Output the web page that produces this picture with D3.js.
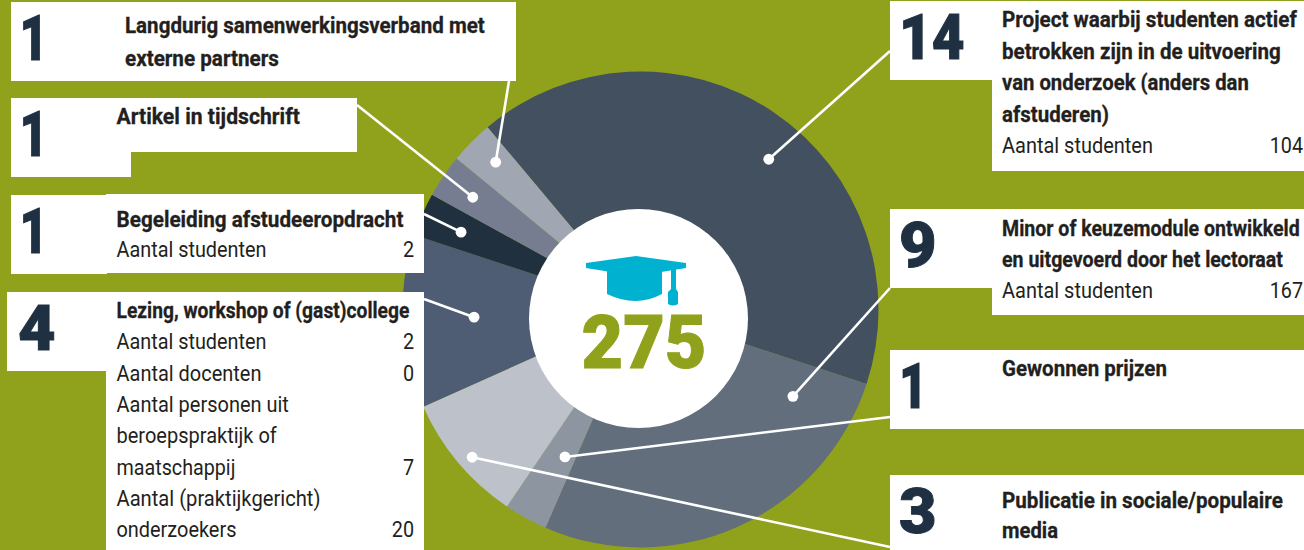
<!DOCTYPE html>
<html lang="en">
<head>
<meta charset="UTF-8">
<title>275</title>
<script src="https://d3js.org/d3.v7.min.js"></script>
<style>
  html, body { margin: 0; padding: 0; background: #90a11b; overflow: hidden; }
  text { font-family: "Roboto", sans-serif; }
</style>
</head>
<body>
<div id="chart"></div>
<script>
// data, clockwise from the big slice
const counts = [14, 9, 1, 3, 4, 1, 1, 1];
const total = 275;
const titleLines = [
  ["Project waarbij studenten actief", "betrokken zijn in de uitvoering", "van onderzoek (anders dan", "afstuderen)"],
  ["Minor of keuzemodule ontwikkeld", "en uitgevoerd door het lectoraat"],
  ["Gewonnen prijzen"],
  ["Publicatie in sociale/populaire", "media"],
  ["Lezing, workshop of (gast)college"],
  ["Begeleiding afstudeeropdracht"],
  ["Artikel in tijdschrift"],
  ["Langdurig samenwerkingsverband met", "externe partners"]
];
// [label line, value] rows under each title
const detailRows = [
  [["Aantal studenten", "104"]],
  [["Aantal studenten", "167"]],
  [],
  [],
  [["Aantal studenten", "2"], ["Aantal docenten", "0"], ["Aantal personen uit", ""], ["beroepspraktijk of", ""], ["maatschappij", "7"], ["Aantal (praktijkgericht)", ""], ["onderzoekers", "20"]],
  [["Aantal studenten", "2"]],
  [],
  []
];

// styles and layout, same order as the data
const sliceColors = ["#42505f", "#626e7c", "#8d95a1", "#bcc1ca", "#4e5d74", "#20303f", "#777d90", "#a1a7b2"];
const green = "#90a11b", ink = "#231f20", navy = "#1f3043", capBlue = "#00b1d0";

const W = 1304, H = 550;
const cx = 640.5, cy = 309.5, outerR = 238, startDeg = -40;
const holeX = 638.5, holeY = 318.5, holeR = 109.5;

// text is squeezed to these widths, the reference face is narrower than Roboto
const titleWidths = [[295, 279, 247, 107], [298, 281], [165], [281, 56], [293], [287], [183.5], [360, 154]];
const detailWidths = [[151], [151], [], [], [150, 145, 172.5, 160.5, 119, 204, 120], [150], [], []];

// panels: outline rects, number spot, text spot, value right edge, leader start, dot spot in the slice
const panels = [
  {rects: [[890, 1, 414, 79], [992, 1, 312, 170]], nx: 899, ns: 0.9, tx: 1002, ty: 27, step: 31.5, vx: 1303, lead: [890, 51], dotR: 0.83, dotF: 0.543},
  {rects: [[890, 209, 414, 79], [992, 209, 312, 106]], nx: 899, ns: 1.03, tx: 1002, ty: 236, step: 31, vx: 1303, lead: [890, 288], dotR: 0.737, dotF: 0.12},
  {rects: [[890, 350, 414, 79]], nx: 899, ns: 0.78, tx: 1002, ty: 376, step: 31, vx: 1303, lead: [890, 417], dotR: 0.696, dotF: 0.34},
  {rects: [[890, 475, 414, 75]], nx: 899, ns: 1.03, tx: 1002, ty: 508, step: 30, vx: 1303, lead: [890, 547], dotR: 0.941, dotF: 0.46},
  {rects: [[7, 292, 100, 79], [106, 292, 318, 258]], nx: 18, ns: 1.03, tx: 116.5, ty: 318, step: 31.3, vx: 414, lead: [424, 299], dotR: 0.70, dotF: 0.507},
  {rects: [[11, 195, 96, 79], [106, 194, 318, 79]], nx: 19.5, ns: 0.78, tx: 116.5, ty: 227, step: 30, vx: 414, lead: [424, 214], dotR: 0.821, dotF: 0.48},
  {rects: [[11, 98, 346, 54], [11, 98, 120, 79]], nx: 19.5, ns: 0.78, tx: 116.5, ty: 124, step: 31, vx: 357, lead: [357, 105], dotR: 0.848, dotF: 0.47},
  {rects: [[11, 2, 505, 79]], nx: 19.5, ns: 0.78, tx: 125, ty: 33, step: 33, vx: 516, lead: [509, 81], dotR: 0.868, dotF: 0.575}
];

const svg = d3.select("#chart").append("svg").attr("width", W).attr("height", H);
svg.append("rect").attr("width", W).attr("height", H).attr("fill", green);

const pie = d3.pie().sort(null).value(d => d)
  .startAngle(startDeg * Math.PI / 180)
  .endAngle((startDeg + 360) * Math.PI / 180);
const arcs = pie(counts);
const arc = d3.arc().innerRadius(0).outerRadius(outerR);

svg.append("g").attr("transform", `translate(${cx},${cy})`)
  .selectAll("path").data(arcs).join("path")
  .attr("d", arc)
  .attr("fill", (d, i) => sliceColors[i]);

// white panels go on top of the pie
panels.forEach(p => {
  svg.append("g").selectAll("rect").data(p.rects).join("rect")
    .attr("x", d => d[0]).attr("y", d => d[1]).attr("width", d => d[2]).attr("height", d => d[3])
    .attr("fill", "#fff");
});

// leader lines and dots, dot spot comes from the slice angle
function dotSpot(d, i) {
  const a = d.startAngle + (d.endAngle - d.startAngle) * panels[i].dotF;
  const r = outerR * panels[i].dotR;
  return [cx + Math.sin(a) * r, cy - Math.cos(a) * r];
}
arcs.forEach((d, i) => {
  const s = dotSpot(d, i), l = panels[i].lead;
  svg.append("line").attr("x1", l[0]).attr("y1", l[1]).attr("x2", s[0]).attr("y2", s[1])
    .attr("stroke", "#fff").attr("stroke-width", 2.6);
  svg.append("circle").attr("cx", s[0]).attr("cy", s[1]).attr("r", 5.4).attr("fill", "#fff");
});

// centre
svg.append("circle").attr("cx", holeX).attr("cy", holeY).attr("r", holeR).attr("fill", "#fff");

const cap = svg.append("g").attr("transform", "translate(636,256)").attr("fill", capBlue);
cap.append("path").attr("d", "M-50,7 L0,0 L50,7 L50,12 L0,20 L-50,12 Z");
cap.append("path").attr("d", "M-29,14 L0,19 L26,15 L26,38 Q0,52 -29,38 Z");
cap.append("path").attr("d", "M35,11 L40,10 L40,33 L42,36 L42,48 Q37,51 32,48 L32,36 L35,33 Z");

svg.append("text").attr("transform", "translate(644,368) scale(0.97,1)").attr("text-anchor", "middle")
  .attr("font-size", 74).attr("font-weight", 900).attr("fill", green)
  .attr("stroke", green).attr("stroke-width", 1).text(total);

// squeeze a line to its measured width
function fitLine(sel, x, y, width) {
  const k = width / sel.node().getComputedTextLength();
  sel.attr("transform", `translate(${x},${y}) scale(${k},1)`);
}

// panel text
const numG = svg.append("g"), txtG = svg.append("g");
panels.forEach((p, i) => {
  numG.append("text").attr("transform", `translate(${p.nx},${p.rects[0][1] + 58}) scale(${p.ns},1)`)
    .attr("font-size", 63).attr("font-weight", 900).attr("fill", navy)
    .attr("stroke", navy).attr("stroke-width", 1).text(counts[i]);
  let y = p.ty;
  titleLines[i].forEach((line, j) => {
    const t = txtG.append("text")
      .attr("font-size", 22).attr("font-weight", 700).attr("fill", ink)
      .attr("stroke", ink).attr("stroke-width", 0.3).text(line);
    fitLine(t, p.tx, y, titleWidths[i][j]);
    y += p.step;
  });
  detailRows[i].forEach((r, j) => {
    const t = txtG.append("text")
      .attr("font-size", 22).attr("font-weight", 400).attr("fill", ink).text(r[0]);
    fitLine(t, p.tx, y, detailWidths[i][j]);
    if (r[1]) {
      txtG.append("text").attr("transform", `translate(${p.vx},${y}) scale(0.9,1)`).attr("text-anchor", "end")
        .attr("font-size", 22).attr("fill", ink).text(r[1]);
    }
    y += p.step;
  });
});
</script>
</body>
</html>
